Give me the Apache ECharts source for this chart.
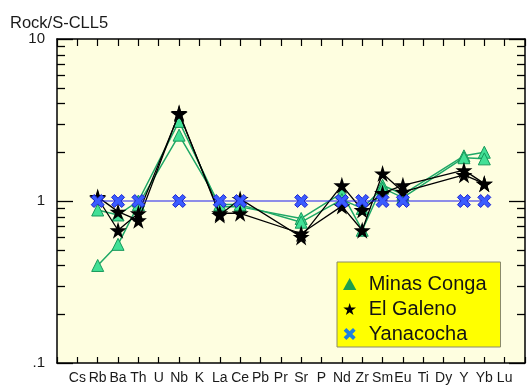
<!DOCTYPE html>
<html>
<head>
<meta charset="utf-8">
<script src="https://cdn.jsdelivr.net/npm/echarts@6/dist/echarts.min.js"></script>
<style>
  html, body { margin: 0; padding: 0; background: #ffffff; }
  #chart { width: 528px; height: 385px; }
</style>
</head>
<body>
<div id="chart"></div>
<script>
// Spider diagram: trace elements normalised to S-CLL5 (log scale)
const elements = ['Cs','Rb','Ba','Th','U','Nb','K','La','Ce','Pb','Pr','Sr','P','Nd','Zr','Sm','Eu','Ti','Dy','Y','Yb','Lu'];

const minasConga1 = [null, 0.88, 0.82, 1.00, null, 3.10, null, 0.92, 0.92, null, null, 0.78, null, 1.12, 0.66, 1.25, 1.10, null, null, 1.90, 2.00, null];
const minasConga2 = [null, 0.40, 0.54, 0.95, null, 2.55, null, 0.95, 0.95, null, null, 0.74, null, 1.02, 0.90, 1.20, 1.05, null, null, 1.85, 1.82, null];
const elGaleno1   = [null, 1.06, 0.86, 0.76, null, 3.50, null, 0.82, 1.03, null, null, 0.60, null, 1.25, 0.88, 1.12, 1.25, null, null, 1.55, 1.28, null];
const elGaleno2   = [null, 1.04, 0.66, 0.84, null, 3.45, null, 0.84, 0.84, null, null, 0.63, null, 0.93, 0.66, 1.48, 1.14, null, null, 1.45, 1.28, null];
const yanacocha   = [null, 1.00, 1.00, 1.00, null, 1.00, null, 1.00, 1.00, null, null, 1.00, null, 1.00, 1.00, 1.00, 1.00, null, null, 1.00, 1.00, null];

const yTickLabels = { '0.1': '.1', '1': '1', '10': '10' };
const decades = [0.1, 1];
const minorSteps = [2, 3, 4, 5, 6, 7, 8, 9];

const FONT = "'Liberation Sans', Arial, Helvetica, sans-serif";
const STAR = 'path://M50,0 L61,35 L98,35 L68,57 L79,91 L50,70 L21,91 L32,57 L2,35 L39,35 Z';
const CROSS = 'path://M0,22 L22,0 L50,28 L78,0 L100,22 L72,50 L100,78 L78,100 L50,72 L22,100 L0,78 L28,50 Z';
const TRIANGLE = 'path://M50,0 L100,90 L0,90 Z';

// Element index / value pairs; missing elements are skipped so the line joins across them
function points(vals) {
  return vals.map((v, i) => (v == null ? null : [i, v])).filter(Boolean);
}

function greenSeries(vals) {
  return {
    name: 'Minas Conga', type: 'line', data: points(vals),
    symbol: 'triangle', symbolSize: 12,
    itemStyle: { color: '#42e096', borderColor: '#17985a', borderWidth: 1 },
    lineStyle: { color: '#1fa866', width: 1.5 },
    z: 2
  };
}
function blackSeries(vals) {
  return {
    name: 'El Galeno', type: 'line', data: points(vals),
    symbol: STAR, symbolSize: 17,
    itemStyle: { color: '#000000' },
    lineStyle: { color: '#000000', width: 1.3 },
    z: 3
  };
}

const chart = echarts.init(document.getElementById('chart'), null, { renderer: 'canvas' });

const xBase = {
  type: 'value', min: -1, max: 22, interval: 1,
  axisLine: { show: true, onZero: false, lineStyle: { color: '#000', width: 1.5 } },
  splitLine: { show: false }
};
const yBase = {
  type: 'log', logBase: 10, min: 0.1, max: 10,
  axisLine: { show: true, onZero: false, lineStyle: { color: '#000', width: 1.5 } },
  axisTick: { show: true, inside: true, length: 16, lineStyle: { color: '#000', width: 1.3 } },
  minorTick: { show: false },
  splitLine: { show: false }
};

chart.setOption({
  animation: false,
  backgroundColor: '#ffffff',
  title: {
    text: 'Rock/S-CLL5', left: 5, top: 10,
    textStyle: { fontFamily: FONT, fontSize: 16.5, fontWeight: 'normal', color: '#1a1a1a' }
  },
  grid: {
    left: 57, right: -3, top: 39, bottom: 22,
    show: true, backgroundColor: '#fefee0', borderWidth: 0
  },
  xAxis: [
    Object.assign({}, xBase, {
      position: 'bottom',
      axisTick: { show: true, inside: true, length: 6, lineStyle: { color: '#000', width: 1.2 } },
      axisLabel: {
        show: true, margin: 8, fontFamily: FONT, fontSize: 14, color: '#1a1a1a',
        formatter: v => elements[v] || ''
      }
    }),
    Object.assign({}, xBase, {
      position: 'top',
      axisTick: { show: true, inside: true, length: 7, lineStyle: { color: '#000', width: 1.2 } },
      axisLabel: { show: false }
    })
  ],
  yAxis: [
    Object.assign({}, yBase, {
      position: 'left',
      axisLabel: {
        show: true, margin: 12, fontFamily: FONT, fontSize: 15, color: '#1a1a1a',
        formatter: v => yTickLabels[String(+v.toPrecision(3))] || ''
      }
    }),
    Object.assign({}, yBase, {
      position: 'right',
      axisLabel: { show: false }
    })
  ],
  legend: {
    orient: 'vertical', left: 337, top: 262,
    backgroundColor: '#ffff00', borderColor: '#8a8a6a', borderWidth: 1,
    padding: [12, 14, 3, 6], itemGap: 5,
    itemWidth: 28, itemHeight: 12,
    textStyle: { fontFamily: FONT, fontSize: 20, color: '#141414' },
    selectedMode: false,
    data: [
      { name: 'Minas Conga', icon: TRIANGLE, itemStyle: { color: '#1f9e4c', borderWidth: 0 } },
      { name: 'El Galeno', icon: STAR, itemStyle: { color: '#000000', borderWidth: 0 } },
      { name: 'Yanacocha', icon: CROSS, itemStyle: { color: '#1e80e0', borderWidth: 0 } }
    ]
  },
  series: [
    greenSeries(minasConga1),
    greenSeries(minasConga2),
    blackSeries(elGaleno1),
    blackSeries(elGaleno2),
    {
      name: 'Yanacocha', type: 'line', data: points(yanacocha),
      symbol: CROSS, symbolSize: 13,
      itemStyle: { color: '#3a5cff', borderColor: '#1c24d0', borderWidth: 1 },
      lineStyle: { color: '#1c1cf0', width: 1.2 },
      z: 4
    }
  ]
});

// Log-scale minor ticks (2..9 of each decade) on the left and right frame, placed through the y scale
const xLeft = chart.convertToPixel({ xAxisIndex: 0 }, -1);
const xRight = chart.convertToPixel({ xAxisIndex: 0 }, 22);
const minorTicks = [];
decades.forEach(d => {
  minorSteps.forEach(k => {
    const y = Math.round(chart.convertToPixel({ yAxisIndex: 0 }, d * k)) + 0.5;
    minorTicks.push({
      type: 'line', silent: true, z: 5,
      shape: { x1: xLeft, y1: y, x2: xLeft + 8, y2: y },
      style: { stroke: '#000', lineWidth: 1.3 }
    });
    minorTicks.push({
      type: 'line', silent: true, z: 5,
      shape: { x1: xRight, y1: y, x2: xRight - 8, y2: y },
      style: { stroke: '#000', lineWidth: 1.3 }
    });
  });
});
chart.setOption({ graphic: minorTicks });
</script>
</body>
</html>
